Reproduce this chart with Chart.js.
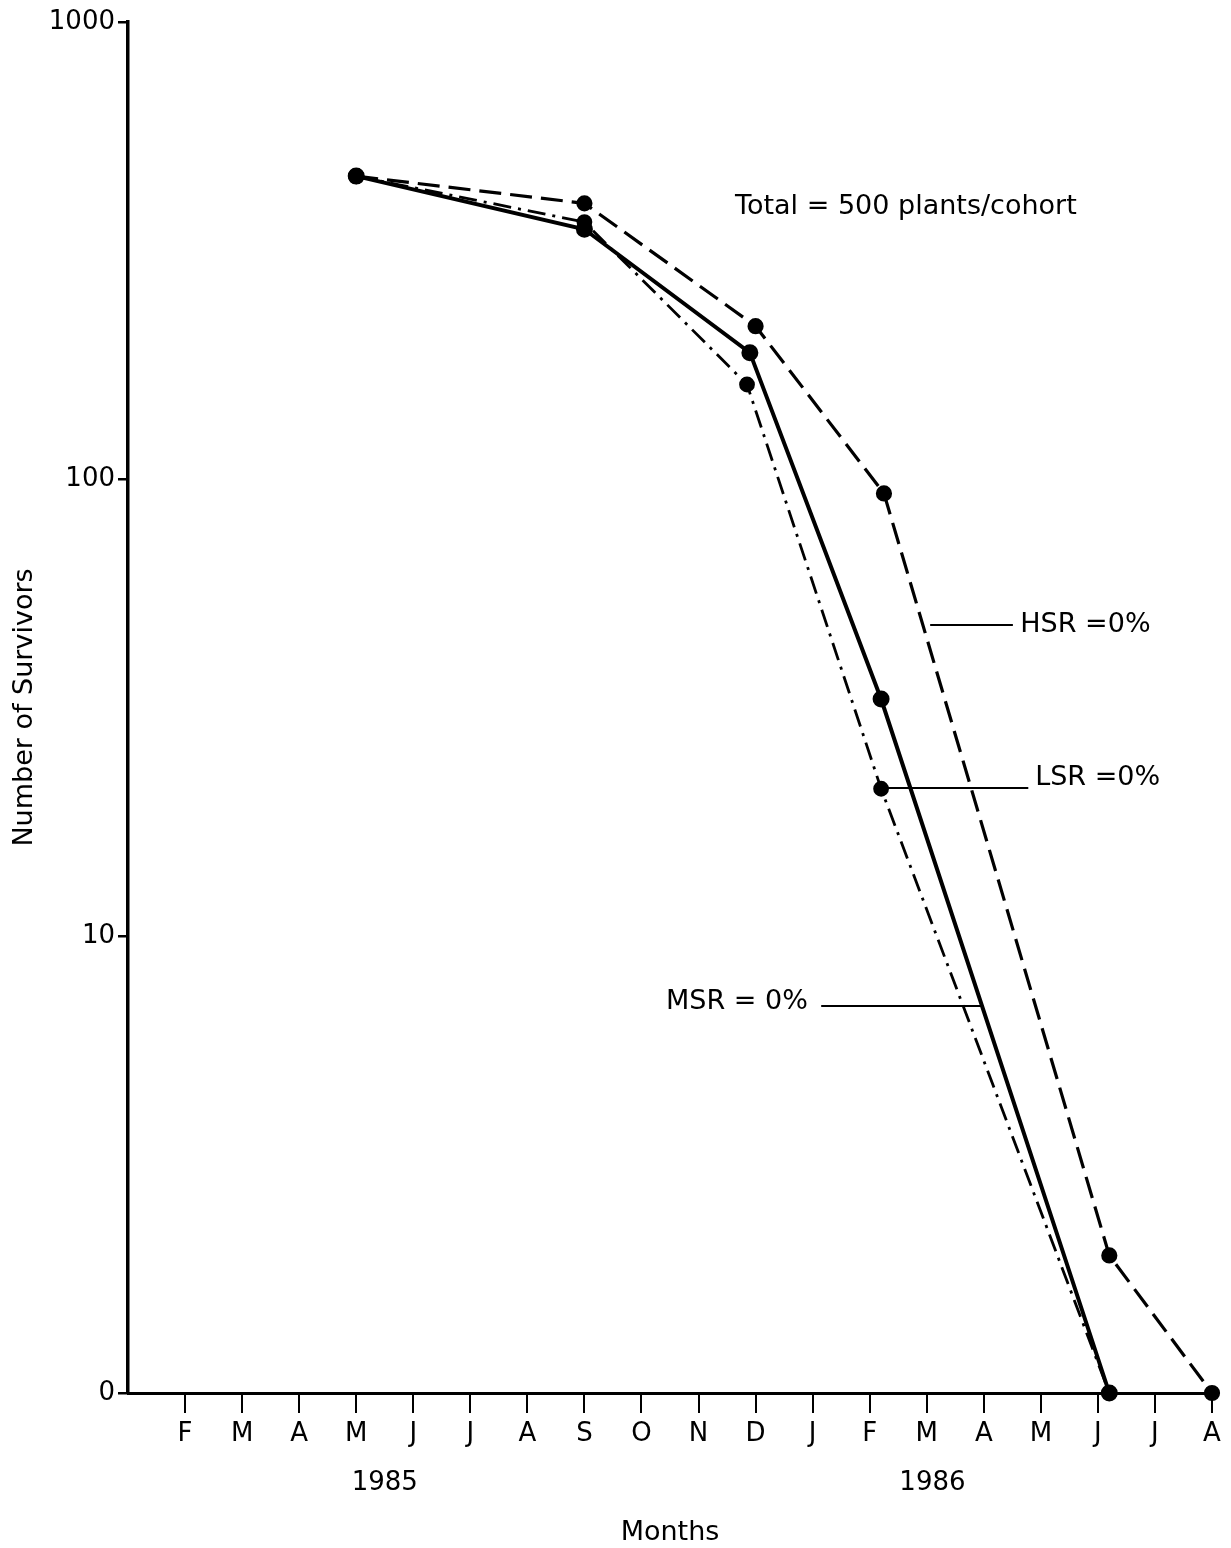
<!DOCTYPE html>
<html>
<head>
<meta charset="utf-8">
<script src="https://cdn.jsdelivr.net/npm/chart.js@4/dist/chart.umd.min.js"></script>
<style>
  body { margin: 0; background: #fff; }
  #chart { display: block; }
</style>
</head>
<body>
<canvas id="chart" width="1231" height="1548"></canvas>
<script>
try {

// month letters, index 0 = Jan 1985
var monthLetters = ['J','F','M','A','M','J','J','A','S','O','N','D','J','F','M','A','M','J','J','A'];
var yTickValues = [1, 10, 100, 1000];
var yTickLabels = ['0', '10', '100', '1000'];
var yearLabels = ['1985', '1986'];
var yearAt = [4.5, 14.1];

// survivors per cohort (months from Jan 1985)
var hsrMonth = [4, 8, 11.0, 13.25, 17.2, 19];
var hsrSurvivors = [460, 401, 216, 93, 2, 1];
var lsrMonth = [4, 8, 10.85, 13.2, 17.2];
var lsrSurvivors = [460, 365, 161, 21, 1];
var msrMonth = [4, 8, 10.9, 13.2, 17.2];
var msrSurvivors = [460, 352, 189, 33, 1];

// text notes and leader lines, in data units
var noteTexts = ['Total = 500 plants/cohort', 'HSR =0%', 'LSR =0%', 'MSR = 0%'];
var noteAt = [[10.64, 394], [15.64, 47.9], [15.9, 22.2], [9.43, 7.17]];
var leaders = [[14.06, 15.51, 48], [13.29, 15.78, 21.1], [12.15, 14.99, 7.03]];

function pts(xs, ys) {
  return xs.map(function (x, i) { return { x: x, y: ys[i] }; });
}

var ink = '#000';
Chart.defaults.font.family = 'DejaVu Sans';
Chart.defaults.font.size = 26;
Chart.defaults.color = ink;

var notesPlugin = {
  id: 'notes',
  beforeDraw: function (chart) {
    var c = chart.ctx;
    c.save();
    c.fillStyle = '#fff';
    c.fillRect(0, 0, chart.width, chart.height);
    c.restore();
  },
  afterDraw: function (chart) {
    var c = chart.ctx, xs = chart.scales.x, ys = chart.scales.y;
    c.save();
    c.fillStyle = ink;
    c.strokeStyle = ink;
    c.font = '27px "DejaVu Sans"';
    c.textBaseline = 'middle';
    c.textAlign = 'left';
    noteTexts.forEach(function (t, i) {
      c.fillText(t, xs.getPixelForValue(noteAt[i][0]), ys.getPixelForValue(noteAt[i][1]));
    });
    c.lineWidth = 2;
    leaders.forEach(function (l) {
      var y = Math.round(ys.getPixelForValue(l[2]));
      c.beginPath();
      c.moveTo(xs.getPixelForValue(l[0]), y);
      c.lineTo(xs.getPixelForValue(l[1]), y);
      c.stroke();
    });
    c.textAlign = 'center';
    c.font = '26px "DejaVu Sans"';
    yearLabels.forEach(function (t, i) {
      c.fillText(t, xs.getPixelForValue(yearAt[i]), xs.bottom - 65);
    });
    c.restore();
  }
};

var common = {
  borderColor: ink,
  backgroundColor: ink,
  pointBackgroundColor: ink,
  pointBorderColor: ink,
  pointRadius: 6.5,
  pointHoverRadius: 6.5,
  tension: 0,
  clip: false
};

new Chart(document.getElementById('chart'), {
  type: 'line',
  data: {
    datasets: [
      Object.assign({ label: 'HSR', data: pts(hsrMonth, hsrSurvivors), borderWidth: 3.2, borderDash: [22, 9] }, common),
      Object.assign({ label: 'LSR', data: pts(lsrMonth, lsrSurvivors), borderWidth: 2.8, borderDash: [18, 7, 3, 7] }, common),
      Object.assign({ label: 'MSR', data: pts(msrMonth, msrSurvivors), borderWidth: 4 }, common)
    ]
  },
  options: {
    responsive: false,
    animation: false,
    devicePixelRatio: 1,
    layout: { padding: { top: 22, right: 19, left: 0, bottom: 0 } },
    plugins: { legend: { display: false }, tooltip: { enabled: false } },
    scales: {
      x: {
        type: 'linear',
        min: 0,
        max: 19,
        afterBuildTicks: function (s) {
          s.ticks = monthLetters.map(function (m, i) { return { value: i }; }).filter(function (t) { return t.value > 0; });
        },
        ticks: {
          padding: 6,
          maxRotation: 0,
          autoSkip: false,
          font: { size: 26 },
          callback: function (v) { return monthLetters[v]; }
        },
        grid: { drawOnChartArea: false, drawTicks: true, tickLength: 20, color: ink, lineWidth: 2 },
        border: { display: true, color: ink, width: 3 },
        title: { display: true, text: 'Months', font: { size: 27, lineHeight: 1.1 }, padding: { top: 0, bottom: 0 } },
        afterFit: function (s) { s.height = 155; }
      },
      y: {
        type: 'logarithmic',
        min: 1,
        max: 1000,
        afterBuildTicks: function (s) {
          s.ticks = yTickValues.map(function (v) { return { value: v }; });
        },
        ticks: {
          padding: 3,
          font: { size: 26 },
          callback: function (v, i) { return yTickLabels[i]; }
        },
        grid: { drawOnChartArea: false, drawTicks: true, tickLength: 10, color: ink, lineWidth: 2.5 },
        border: { display: true, color: ink, width: 3.5 },
        title: { display: true, text: 'Number of Survivors', font: { size: 27, lineHeight: 1.2 }, padding: { top: 9, bottom: 0 } },
        afterFit: function (s) { s.width = 128; }
      }
    }
  },
  plugins: [notesPlugin]
});

} catch (err) {
  console.error(err);
}
</script>
</body>
</html>
